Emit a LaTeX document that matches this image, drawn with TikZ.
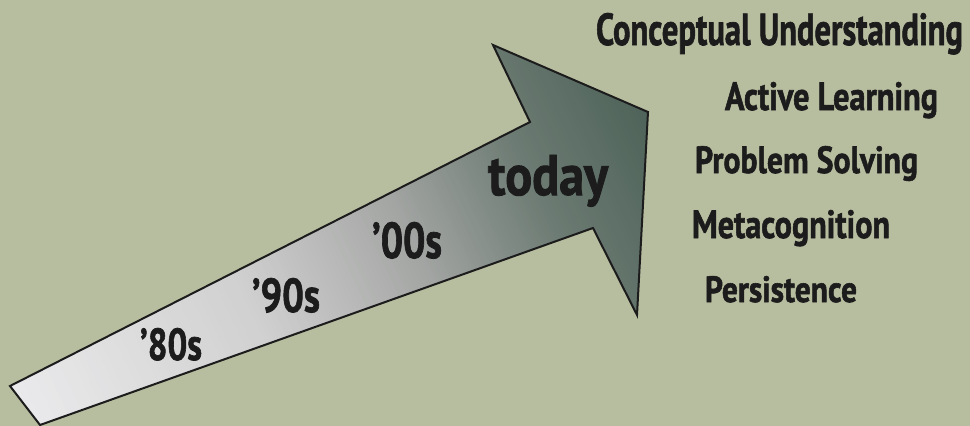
\documentclass[tikz,border=0pt]{standalone}
\usepackage{fontspec}
\setmainfont{PT Sans}[BoldFeatures={FakeBold=1.6}]
\usepackage{graphicx}
\definecolor{bg}{RGB}{183,189,159}
\definecolor{ink}{RGB}{28,28,28}
\definecolor{cA}{RGB}{236,236,238}
\definecolor{cB}{RGB}{208,208,208}
\definecolor{cC}{RGB}{164,166,164}
\definecolor{cD}{RGB}{108,123,115}
\definecolor{cE}{RGB}{72,94,84}
\newcommand\rtxt[3]{\resizebox{#1pt}{#2pt}{\bfseries #3}}
\tikzset{lbl/.style={inner sep=0pt, outer sep=0pt, text=ink, anchor=base west}}
\begin{document}
\begin{tikzpicture}[x=1pt,y=-1pt]
\useasboundingbox (0,0) rectangle (970,426);
\fill[bg] (0,0) rectangle (970,426);
\coordinate (A) at (10,386);
\coordinate (B) at (530,122);
\coordinate (C) at (493,45);
\coordinate (D) at (648,112);
\coordinate (E) at (637,315);
\coordinate (F) at (593,228);
\coordinate (G) at (40,425);
\begin{scope}
\clip (A)--(B)--(C)--(D)--(E)--(F)--(G)--cycle;
\begin{scope}[shift={(A)}, rotate=25.2]
\foreach \a/\b/\ca/\cb in {-20/250/cA/cB, 250/420/cB/cC, 420/560/cC/cD, 560/720/cD/cE}{
  \foreach \i in {0,...,39}{
    \pgfmathsetmacro\s{\a+(\b-\a)*\i/40}
    \pgfmathsetmacro\e{\a+(\b-\a)*(\i+1)/40+0.6}
    \pgfmathtruncatemacro\p{100-2.5*\i}
    \fill[\ca!\p!\cb] (\s,-400) rectangle (\e,400);
  }
}
\end{scope}
\end{scope}
\draw[line width=2pt, ink, line join=miter] (A)--(B)--(C)--(D)--(E)--(F)--(G)--cycle;
\node[lbl] (y80) at (140,360) {\rtxt{62}{32}{’80s}};
\node[lbl] (y90) at (252,312) {\rtxt{68}{34}{’90s}};
\node[lbl] (y00) at (372,258) {\rtxt{70}{36}{’00s}};
\node[lbl] (today) at (488,195) {\rtxt{120}{40}{today}};
\node[lbl] (cu) at (596,45) {\rtxt{367}{32}{Conceptual Understanding}};
\node[lbl] (al) at (725,110) {\rtxt{213}{28}{Active Learning}};
\node[lbl] (ps) at (695,173) {\rtxt{223}{27}{Problem Solving}};
\node[lbl] (mc) at (692,238) {\rtxt{198}{28}{Metacognition}};
\node[lbl] (pe) at (705,302) {\rtxt{152}{26}{Persistence}};
\end{tikzpicture}
\end{document}
